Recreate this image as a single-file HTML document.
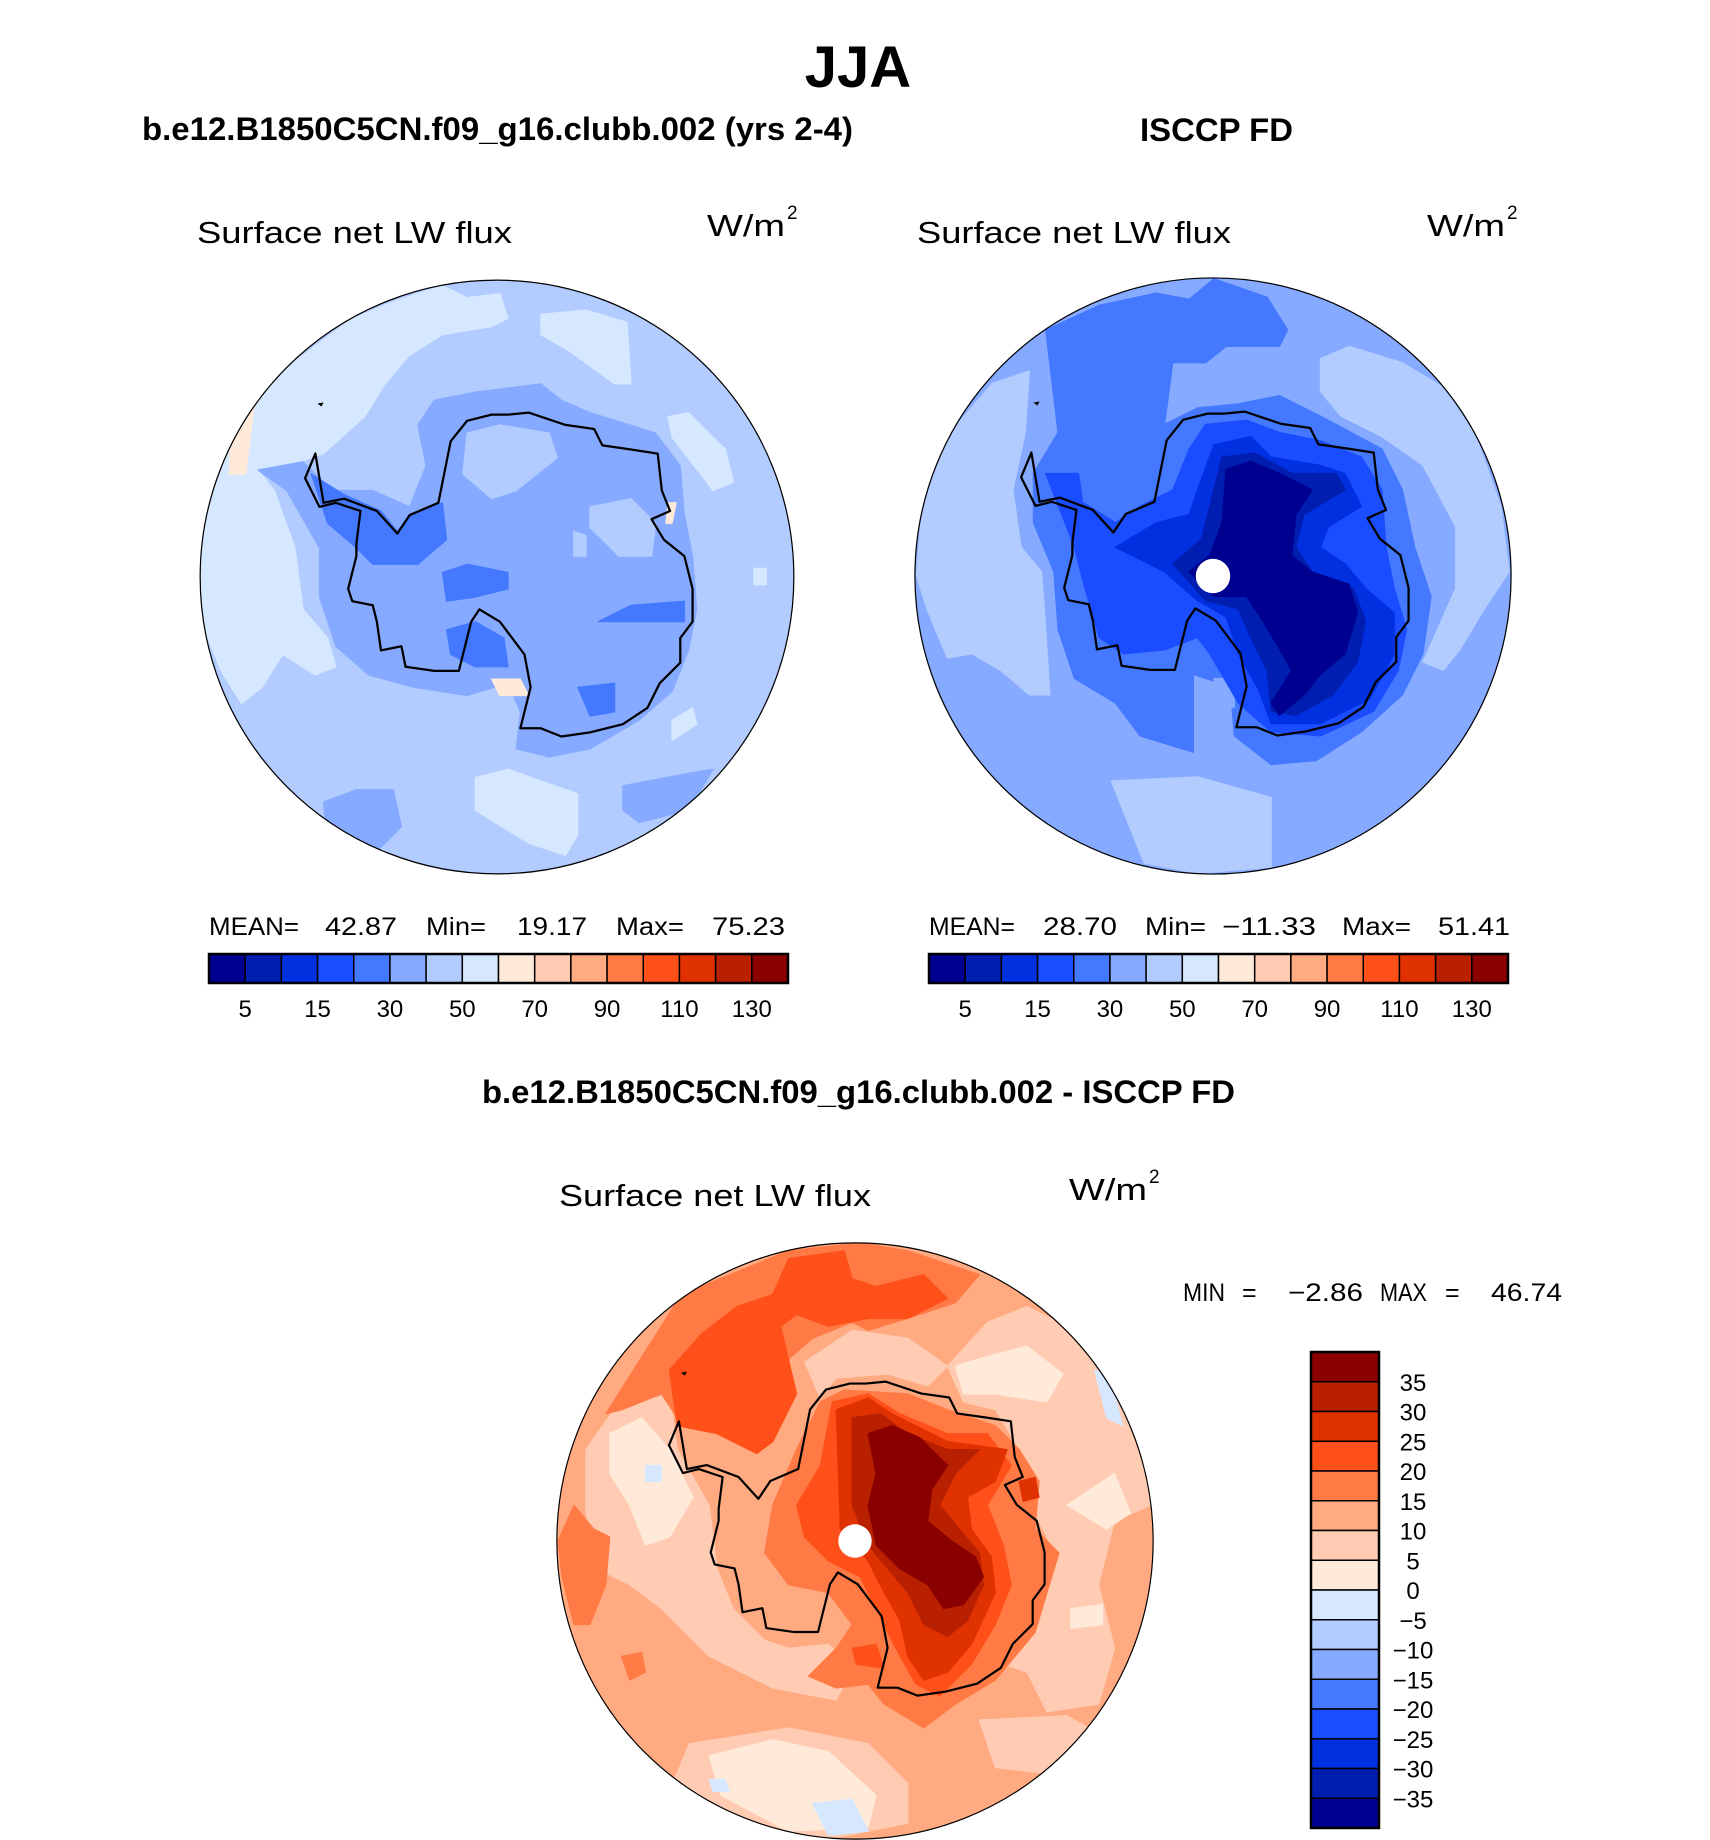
<!DOCTYPE html>
<html><head><meta charset="utf-8">
<style>
html,body{margin:0;padding:0;background:#fff;}
svg{display:block;}
text{font-family:"Liberation Sans",sans-serif;}
.b{font-weight:bold;}
</style></head>
<body>
<svg id="fig" width="1710" height="1840" viewBox="0 0 1710 1840" xmlns="http://www.w3.org/2000/svg">
<text x="858" y="87" font-size="58" text-anchor="middle" class="b">JJA</text>
<text x="142" y="140" font-size="32" class="b" textLength="711" lengthAdjust="spacingAndGlyphs">b.e12.B1850C5CN.f09_g16.clubb.002 (yrs 2-4)</text>
<text x="1140" y="141" font-size="32" class="b" textLength="153" lengthAdjust="spacingAndGlyphs">ISCCP FD</text>
<text x="482" y="1103" font-size="32" class="b" textLength="753" lengthAdjust="spacingAndGlyphs">b.e12.B1850C5CN.f09_g16.clubb.002 - ISCCP FD</text>

<text x="197" y="243" font-size="31" textLength="315" lengthAdjust="spacingAndGlyphs">Surface net LW flux</text>
<text x="707" y="236" font-size="31" textLength="78" lengthAdjust="spacingAndGlyphs">W/m</text><text x="787" y="219" font-size="19">2</text>
<text x="917" y="243" font-size="31" textLength="314" lengthAdjust="spacingAndGlyphs">Surface net LW flux</text>
<text x="1427" y="236" font-size="31" textLength="78" lengthAdjust="spacingAndGlyphs">W/m</text><text x="1507" y="219" font-size="19">2</text>
<text x="559" y="1206" font-size="31" textLength="312" lengthAdjust="spacingAndGlyphs">Surface net LW flux</text>
<text x="1069" y="1200" font-size="31" textLength="78" lengthAdjust="spacingAndGlyphs">W/m</text><text x="1149" y="1183" font-size="19">2</text>

<g font-size="25">
<text x="209" y="935" textLength="90" lengthAdjust="spacingAndGlyphs">MEAN=</text>
<text x="325" y="935" textLength="72" lengthAdjust="spacingAndGlyphs">42.87</text>
<text x="426" y="935" textLength="60" lengthAdjust="spacingAndGlyphs">Min=</text>
<text x="517" y="935" textLength="70" lengthAdjust="spacingAndGlyphs">19.17</text>
<text x="616" y="935" textLength="68" lengthAdjust="spacingAndGlyphs">Max=</text>
<text x="712" y="935" textLength="73" lengthAdjust="spacingAndGlyphs">75.23</text>
</g>
<g font-size="25">
<text x="929" y="935" textLength="86" lengthAdjust="spacingAndGlyphs">MEAN=</text>
<text x="1043" y="935" textLength="74" lengthAdjust="spacingAndGlyphs">28.70</text>
<text x="1145" y="935" textLength="61" lengthAdjust="spacingAndGlyphs">Min=</text>
<text x="1222" y="935" textLength="94" lengthAdjust="spacingAndGlyphs">−11.33</text>
<text x="1342" y="935" textLength="69" lengthAdjust="spacingAndGlyphs">Max=</text>
<text x="1438" y="935" textLength="72" lengthAdjust="spacingAndGlyphs">51.41</text>
</g>
<g font-size="25">
<text x="1183" y="1301" textLength="42" lengthAdjust="spacingAndGlyphs">MIN</text>
<text x="1242" y="1301">=</text>
<text x="1288" y="1301" textLength="75" lengthAdjust="spacingAndGlyphs">−2.86</text>
<text x="1380" y="1301" textLength="47" lengthAdjust="spacingAndGlyphs">MAX</text>
<text x="1445" y="1301">=</text>
<text x="1491" y="1301" textLength="71" lengthAdjust="spacingAndGlyphs">46.74</text>
</g>
<g id="maps"></g>
<g id="bars"></g>
</svg>
<script>
const absColors = ["#000090","#001eb0","#0030e0","#1a4dff","#4479ff","#86aaff","#b3ccff","#d6e8ff","#ffead9","#ffcbb3","#ffaa80","#ff7a45","#ff5019","#e03200","#b82000","#8a0000"];
const absTickLabels = ["5","15","30","50","70","90","110","130"];
const absTickBoundaries = [1,3,5,7,9,11,13,15];
const diffTickLabels = ["35","30","25","20","15","10","5","0","−5","−10","−15","−20","−25","−30","−35"];

const coast = [[305,530],[330,470],[350,590],[400,580],[480,610],[530,665],[560,620],[630,590],[660,440],[700,390],[760,375],[800,375],[850,370],[940,400],[1010,410],[1030,450],[1100,460],[1165,470],[1175,560],[1195,610],[1150,630],[1180,680],[1230,720],[1250,800],[1250,880],[1220,920],[1220,980],[1170,1030],[1140,1090],[1080,1130],[1000,1150],[930,1160],[880,1140],[830,1140],[840,1100],[855,1040],[840,960],[780,880],[730,850],[710,880],[680,1000],[650,1000],[620,1000],[550,990],[540,940],[490,950],[480,880],[470,840],[420,830],[410,800],[430,720],[430,690],[440,610],[380,590],[340,600],[305,530]];

const modelBase = 6;
const modelBlobs = [
 [7,[[48,770],[70,560],[120,420],[200,300],[300,230],[420,140],[520,100],[640,60],[700,90],[780,80],[800,140],[760,160],[640,180],[560,230],[500,300],[450,380],[350,470],[260,500],[190,510],[230,560],[280,700],[300,850],[360,920],[380,990],[330,1010],[250,960],[200,1040],[150,1080],[100,1000],[60,900]]],
 [7,[[880,130],[990,120],[1090,150],[1100,300],[1060,300],[950,220],[880,180]]],
 [7,[[1190,380],[1240,370],[1330,460],[1350,540],[1300,560],[1200,430]]],
 [7,[[720,1260],[800,1240],[970,1300],[970,1400],[940,1450],[850,1420],[720,1340]]],
 [7,[[1400,750],[1430,750],[1430,790],[1400,790]]],
 [7,[[1200,1120],[1250,1090],[1260,1130],[1200,1170]]],
 [5,[[580,400],[620,340],[720,320],[880,300],[930,340],[1000,370],[1160,420],[1220,500],[1230,620],[1250,720],[1260,850],[1240,950],[1200,1050],[1120,1120],[1000,1190],[900,1210],[820,1190],[830,1100],[800,1030],[700,1060],[570,1040],[460,1010],[380,940],[340,820],[340,700],[260,560],[190,510],[300,490],[370,560],[470,560],[560,600],[600,500]]],
 [5,[[350,1320],[430,1290],[520,1290],[540,1380],[480,1440],[360,1420]]],
 [5,[[1080,1280],[1240,1250],[1300,1240],[1240,1340],[1120,1370],[1080,1340]]],
 [6,[[700,420],[780,400],[900,420],[920,480],[820,560],[760,580],[690,520]]],
 [6,[[1000,600],[1100,580],[1160,640],[1150,720],[1070,720],[1000,650]]],
 [6,[[960,660],[990,670],[990,720],[960,720]]],
 [4,[[320,520],[400,570],[490,610],[530,660],[560,620],[640,590],[650,680],[580,740],[470,740],[430,700],[360,640]]],
 [4,[[640,760],[700,740],[800,760],[800,800],[720,820],[650,830]]],
 [4,[[650,900],[720,880],[790,920],[800,990],[720,990],[660,960]]],
 [4,[[970,1040],[1060,1030],[1060,1100],[1000,1110]]],
 [4,[[1020,880],[1100,840],[1230,830],[1230,880],[1100,880]]],
 [8,[[125,380],[180,360],[160,520],[120,520]]],
 [8,[[760,1020],[830,1020],[850,1060],[780,1060]]],
 [8,[[1190,590],[1210,590],[1200,640],[1185,640]]]
];

const obsBase = 5;
const obsBlobs = [
 [6,[[15,770],[30,560],[80,440],[200,300],[290,270],[280,420],[250,560],[270,700],[320,760],[330,900],[340,1060],[290,1060],[220,1000],[150,960],[90,970],[40,850]]],
 [6,[[1000,240],[1070,210],[1200,250],[1300,310],[1380,430],[1440,600],[1460,760],[1400,850],[1340,950],[1300,1000],[1250,980],[1330,800],[1330,650],[1250,500],[1150,430],[1050,380],[1000,320]]],
 [6,[[490,1270],[700,1260],[880,1310],[880,1480],[700,1495],[570,1470]]],
 [4,[[330,170],[460,110],[600,80],[680,95],[740,45],[870,90],[920,170],[900,210],[770,210],[720,250],[640,250],[620,400],[700,360],[800,350],[900,330],[1000,380],[1150,460],[1200,560],[1230,700],[1270,820],[1250,960],[1200,1060],[1100,1150],[990,1220],[880,1230],[790,1160],[780,1040],[690,1010],[690,1200],[560,1160],[500,1080],[400,1020],[360,900],[350,760],[300,640],[300,520],[360,420]]],
 [5,[[740,1020],[790,1020],[790,1090],[750,1090]]],
 [3,[[330,520],[410,520],[420,590],[500,640],[560,600],[640,560],[680,460],[720,400],[820,390],[900,420],[1000,440],[1100,480],[1150,560],[1160,700],[1180,800],[1210,900],[1190,1000],[1130,1100],[1000,1160],[880,1150],[800,1080],[730,960],[700,920],[620,950],[520,960],[460,920],[420,780],[400,700]]],
 [2,[[500,700],[600,640],[680,620],[700,560],[740,450],[830,430],[880,480],[1000,500],[1060,520],[1100,600],[1020,650],[1000,700],[1060,740],[1110,800],[1180,860],[1180,960],[1120,1070],[1000,1130],[880,1130],[850,1050],[800,960],[770,870],[700,830],[620,760]]],
 [1,[[640,740],[710,680],[740,560],[760,480],[840,470],[930,520],[1040,520],[1060,560],[960,620],[940,700],[980,760],[1080,800],[1110,880],[1090,980],[1030,1060],[940,1110],[880,1100],[870,1000],[830,920],[800,850],[720,830]]],
 [0,[[680,760],[730,720],[760,640],[770,510],[830,490],[900,520],[980,560],[940,620],[930,720],[980,760],[1070,790],[1090,860],[1060,960],[1000,1010],[960,1060],[900,1110],[880,1080],[930,1000],[860,880],[820,820],[740,820]]]
];

const diffBase = 10;
const diffBlobs = [
 [9,[[1000,350],[1100,240],[1200,200],[1300,250],[1400,350],[1480,500],[1510,700],[1420,740],[1380,900],[1420,1060],[1380,1200],[1250,1220],[1200,1120],[1140,1100],[1230,960],[1260,800],[1190,660],[1170,540],[1120,460],[1040,440]]],
 [9,[[90,560],[160,460],[300,420],[320,560],[400,700],[420,860],[460,960],[540,1040],[600,1060],[700,1050],[760,1110],[720,1190],[560,1160],[400,1080],[280,960],[200,900],[120,860],[90,720]]],
 [9,[[350,1300],[600,1260],[800,1300],[900,1400],[900,1500],[700,1540],[500,1510],[300,1420]]],
 [9,[[640,340],[760,260],[900,280],[1000,350],[950,400],[850,370],[720,380],[680,430]]],
 [9,[[1080,1240],[1300,1230],[1390,1280],[1300,1380],[1120,1360]]],
 [8,[[150,520],[230,480],[300,560],[360,680],[300,780],[240,800],[200,700],[150,620]]],
 [8,[[1020,350],[1120,320],[1200,300],[1290,370],[1250,440],[1120,420],[1040,420]]],
 [8,[[1300,700],[1420,620],[1460,720],[1400,760]]],
 [8,[[400,1330],[560,1290],[700,1320],[820,1430],[800,1510],[600,1520],[430,1430]]],
 [8,[[1310,960],[1390,950],[1390,1000],[1310,1010]]],
 [7,[[660,1450],[760,1440],[800,1520],[700,1530]]],
 [7,[[1370,360],[1410,380],[1440,500],[1400,480]]],
 [7,[[240,600],[280,600],[280,640],[240,640]]],
 [7,[[400,1390],[440,1390],[450,1420],[410,1420]]],
 [11,[[330,170],[600,60],[780,40],[900,60],[1080,120],[1020,190],[900,230],[800,260],[760,240],[660,280],[580,350],[600,460],[560,540],[420,520],[320,480],[280,420],[180,460],[140,470]]],
 [11,[[20,790],[60,700],[110,760],[150,780],[140,900],[100,1000],[60,1000],[30,880]]],
 [11,[[620,560],[680,440],[740,410],[900,420],[1000,460],[1120,500],[1180,560],[1230,640],[1220,760],[1280,820],[1250,920],[1220,1020],[1120,1140],[1020,1200],[940,1260],[840,1200],[800,1150],[720,1160],[650,1130],[720,1060],[760,1000],[700,920],[600,900],[540,820],[560,700]]],
 [11,[[180,1080],[230,1070],[240,1120],[200,1140]]],
 [12,[[300,360],[380,270],[470,200],[560,170],[600,80],[740,60],[760,130],[820,150],[940,120],[1000,180],[900,230],[800,230],[700,250],[620,220],[580,250],[620,420],[560,540],[520,570],[420,520],[320,500]]],
 [12,[[620,700],[680,600],[710,440],[800,420],[880,470],[1000,520],[1100,520],[1160,600],[1100,700],[1140,800],[1160,900],[1120,1000],[1060,1100],[980,1180],[920,1150],[870,1060],[820,960],[780,880],[700,840],[640,780]]],
 [12,[[760,1060],[820,1050],[840,1110],[770,1100]]],
 [13,[[720,460],[800,430],[860,470],[1000,540],[1150,560],[1120,640],[1050,680],[1060,760],[1110,830],[1120,920],[1060,1050],[1000,1120],[940,1140],[900,1080],[880,990],[830,900],[800,840],[730,760]]],
 [13,[[1180,640],[1220,630],[1230,680],[1190,690]]],
 [14,[[760,480],[830,470],[900,520],[1000,560],[1080,560],[1020,620],[980,700],[1030,760],[1080,820],[1090,900],[1050,990],[1000,1030],[940,1000],[900,920],[850,860],[800,800],[760,700]]],
 [15,[[800,520],[860,500],[930,530],[1000,600],[960,660],[950,740],[1010,790],[1070,830],[1090,880],[1040,950],[990,960],[950,900],[880,860],[820,800],[800,700],[820,620]]]
];

const NS = "http://www.w3.org/2000/svg";
function mk(tag, attrs, parent){ const e=document.createElementNS(NS,tag); for(const k in attrs) e.setAttribute(k,attrs[k]); if(parent) parent.appendChild(e); return e; }
const pts = a => a.map(p=>p[0]+","+p[1]).join(" ");

function drawMap(id, cx, cy, sc, lx, ly, lr, base, blobs, hole){
  const maps = document.getElementById("maps");
  const g = mk("g",{transform:`translate(${cx},${cy}) scale(${sc}) translate(${-lx},${-ly})`},maps);
  
  
  const cp = mk("clipPath",{id:id+"-clip"},g);
  mk("circle",{cx:lx,cy:ly,r:lr},cp);
  const fg = mk("g",{"clip-path":`url(#${id}-clip)`},g);
  const bg = mk("circle",{cx:lx,cy:ly,r:lr,fill:absColors[base]},fg);
  
  
  blobs.forEach(b=>{
    const p = mk("polygon",{points:pts(b[1]),fill:absColors[b[0]],stroke:absColors[b[0]],"stroke-width":3,"stroke-linejoin":"round"},fg);
    
    
  });
  const cg = mk("g",{transform:`translate(${lx-773},${ly-771})`},g);
  const c = mk("polygon",{points:pts(coast),fill:"none",stroke:"#000","stroke-width":5.5,"stroke-linejoin":"round"},cg);
  
  
  const isl = mk("polygon",{points:"335,348 350,345 345,355",fill:"#000"},cg);
  
  
  if(hole){
    const h = mk("circle",{cx:lx,cy:ly,r:42,fill:"#fff"},g);
    
    
  }
  const rim = mk("circle",{cx:lx,cy:ly,r:lr,fill:"none",stroke:"#000","stroke-width":3},g);
  
  
}
drawMap("model",497,577,0.41,773,771,724,modelBase,modelBlobs,false);
drawMap("obs",1213,576,0.41,738,770,727,obsBase,obsBlobs,true);
drawMap("diff",855,1541,0.3975,767,790,750,diffBase,diffBlobs,true);

function hBar(id, x0, x1, y0, y1){
  const bars = document.getElementById("bars");
  const g = mk("g",{},bars);
  
  
  const w = (x1-x0)/absColors.length;
  absColors.forEach((c,i)=>{
    const r = mk("rect",{x:x0+i*w,y:y0,width:w,height:y1-y0,fill:c,stroke:"#000","stroke-width":1.5},g);
    
    
  });
  mk("rect",{x:x0,y:y0,width:x1-x0,height:y1-y0,fill:"none",stroke:"#000","stroke-width":2.5},g);
  absTickLabels.forEach((t,i)=>{
    const tx = mk("text",{x:x0+absTickBoundaries[i]*w,y:1017,"font-size":24,"text-anchor":"middle"},g);
    tx.textContent = t;
    
    
  });
}
hBar("model",209,788,954,983);
hBar("obs",929,1508,954,983);

(function(){
  const bars = document.getElementById("bars");
  const g = mk("g",{},bars);
  
  
  const x0=1311, x1=1379, y0=1352, y1=1828;
  const n = absColors.length, h=(y1-y0)/n;
  for(let i=0;i<n;i++){
    const r = mk("rect",{x:x0,y:y0+i*h,width:x1-x0,height:h,fill:absColors[n-1-i],stroke:"#000","stroke-width":1.5},g);
    
    
  }
  mk("rect",{x:x0,y:y0,width:x1-x0,height:y1-y0,fill:"none",stroke:"#000","stroke-width":2.5},g);
  diffTickLabels.forEach((t,i)=>{
    const tx = mk("text",{x:1413,y:y0+(i+1)*h+9,"font-size":24,"text-anchor":"middle"},g);
    tx.textContent = t;
    
    
  });
})();
</script>
</body></html>
